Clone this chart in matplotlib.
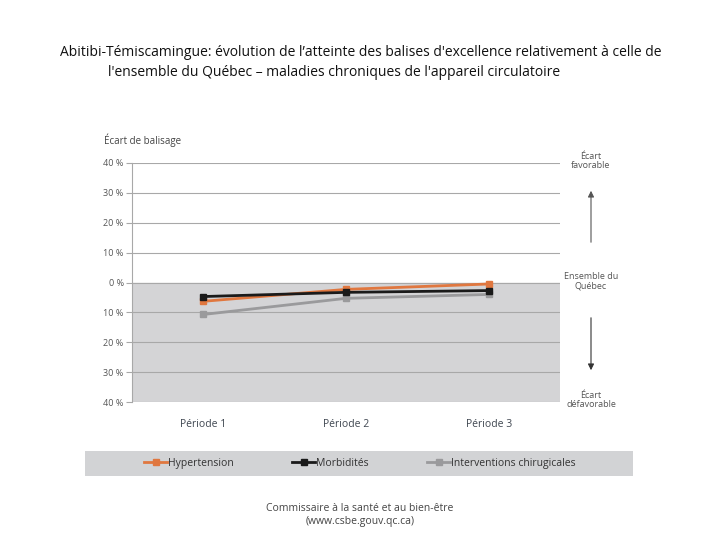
import matplotlib
matplotlib.use("Agg")
import matplotlib.pyplot as plt
from matplotlib.lines import Line2D
from matplotlib.patches import Rectangle

plt.rcParams['font.family'] = ['Open Sans', 'DejaVu Sans']

periods = ["Période 1", "Période 2", "Période 3"]
hypertension = [-6.3, -2.3, -0.5]
morbidites = [-4.7, -3.3, -2.7]
interventions = [-10.7, -5.3, -4.0]
series_names = ["Hypertension", "Morbidités", "Interventions chirugicales"]
yticks = [40, 30, 20, 10, 0, -10, -20, -30, -40]
ytick_labels = ["40 %", "30 %", "20 %", "10 %", "0 %", "10 %", "20 %", "30 %", "40 %"]

colors = ["#e0773f", "#1a1a1a", "#9a9a9c"]

fig = plt.figure(figsize=(7.2, 5.4), dpi=100)
ax = fig.add_axes([132/720, 1-402/540, 428/720, 239/540])
ax.set_xlim(-0.5, 2.5)
ax.set_ylim(-40, 40)
ax.axhspan(-40, 0, color="#d4d4d6", zorder=0)
for t in yticks:
    ax.axhline(t, color="#a8a8a8", lw=0.8, zorder=1)
for s in ax.spines.values():
    s.set_visible(False)
ax.spines['left'].set_visible(True)
ax.spines['left'].set_color("#a8a8a8")
ax.spines['left'].set_linewidth(0.8)
ax.set_yticks(yticks)
ax.set_yticklabels(ytick_labels, fontsize=6.5, color="#555555")
ax.tick_params(axis='y', length=4, width=0.8, color="#a8a8a8", pad=2)
x = list(range(len(periods)))
ax.set_xticks(x)
ax.set_xticklabels(periods, fontsize=7.5, color="#3f4650")
ax.tick_params(axis='x', length=0, pad=12)

for vals, c in zip([interventions, hypertension, morbidites], [colors[2], colors[0], colors[1]]):
    ax.plot(x, vals, color=c, lw=2, marker='s', ms=5, zorder=3)

fig.text(104/720, 1-140/540, "Écart de balisage", fontsize=7, color="#444444", va='center')

# right annotations
fig.text(591/720, 1-161/540, "Écart\nfavorable", fontsize=6.5, color="#555555", ha='center', va='center', linespacing=1.1)
fig.text(591/720, 1-281/540, "Ensemble du\nQuébec", fontsize=6.5, color="#555555", ha='center', va='center', linespacing=1.1)
fig.text(591/720, 1-400/540, "Écart\ndéfavorable", fontsize=6.5, color="#555555", ha='center', va='center', linespacing=1.1)
fig.add_artist(matplotlib.patches.FancyArrowPatch((591/720, 1-245/540), (591/720, 1-188/540),
               transform=fig.transFigure, arrowstyle='-|>', mutation_scale=9, color="#555555", lw=0.8))
fig.add_artist(matplotlib.patches.FancyArrowPatch((591/720, 1-315/540), (591/720, 1-373/540),
               transform=fig.transFigure, arrowstyle='-|>', mutation_scale=9, color="#333333", lw=0.8))

# legend band
fig.add_artist(Rectangle((85/720, 1-476/540), 548/720, 25/540, transform=fig.transFigure,
                         facecolor="#d2d3d5", edgecolor='none', zorder=0))
handles = [Line2D([0], [0], color=c, lw=2, marker='s', ms=5) for c in colors]
fig.legend(handles, series_names, loc='center', bbox_to_anchor=(360/720, 1-463.5/540),
           ncol=3, frameon=False, fontsize=7.5, handlelength=2.2, handletextpad=0.1,
           columnspacing=5.6, labelcolor="#333333")

fig.text(361/720, 1-52/540, "Abitibi-Témiscamingue: évolution de l’atteinte des balises d'excellence relativement à celle de",
         fontsize=10, ha='center', va='center', color="#111111")
fig.text(108/720, 1-72/540, "l'ensemble du Québec – maladies chroniques de l'appareil circulatoire",
         fontsize=10, ha='left', va='center', color="#111111")
fig.text(360/720, 1-515/540, "Commissaire à la santé et au bien-être\n(www.csbe.gouv.qc.ca)",
         fontsize=7.5, ha='center', va='center', color="#444444", linespacing=1.3)

fig.savefig("out.png", dpi=100)
